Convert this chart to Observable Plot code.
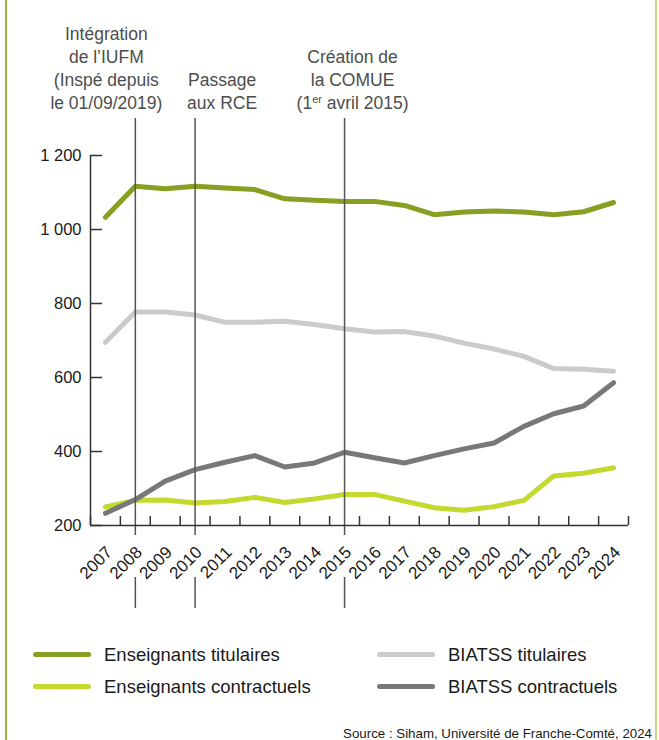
<!DOCTYPE html>
<html><head><meta charset="utf-8">
<script src="https://cdn.jsdelivr.net/npm/d3@7"></script>
<script src="https://cdn.jsdelivr.net/npm/@observablehq/plot@0.6"></script>
<style>
body{margin:0;background:#fff;font-family:"Liberation Sans",Arial,sans-serif;}
#wrap{position:relative;width:659px;height:740px;overflow:hidden;background:#fff}
#border{position:absolute;left:5px;top:0;width:648px;height:740px;border-left:2px solid #96bd33;border-right:2px solid #c0d784;}
#chart{position:absolute;left:0;top:0}
.item{position:absolute;display:flex;align-items:center;font-size:18.5px;line-height:21px;color:#1a1a1a;white-space:nowrap}
.sw{display:inline-block;width:58px;height:5px;border-radius:3px;margin-right:13px}
#source{position:absolute;right:7px;top:726px;font-size:13.3px;line-height:15px;color:#1a1a1a;white-space:nowrap}
</style>
</head><body>
<div id="wrap"><div id="border"></div><div id="chart"></div><div id="legend"></div><div id="source"></div></div>
<script>
const years = [2007,2008,2009,2010,2011,2012,2013,2014,2015,2016,2017,2018,2019,2020,2021,2022,2023,2024];
const seriesNames = ["Enseignants titulaires","BIATSS titulaires","Enseignants contractuels","BIATSS contractuels"];
const enseignantsTitulaires = [1033,1117,1110,1117,1112,1108,1083,1079,1076,1076,1065,1040,1047,1050,1047,1040,1048,1073];
const biatssTitulaires = [695,777,777,769,749,749,752,743,732,723,724,712,693,677,657,624,622,617];
const enseignantsContractuels = [250,268,269,261,265,276,262,272,284,284,266,248,241,251,268,334,341,356];
const biatssContractuels = [233,270,320,351,371,389,358,369,398,383,369,389,407,423,468,502,523,586];
const seriesColors = ["#86a023","#cbcbcb","#c3d92e","#78787b"];
const yTicks = [200,400,600,800,1000,1200];
const eventYears = [2008,2010,2015];
const eventLabels = ["Intégration\nde l’IUFM\n(Inspé depuis\nle 01/09/2019)","Passage\naux RCE","Création de\nla COMUE\n(1er avril 2015)"];
const sourceText = "Source : Siham, Université de Franche-Comté, 2024";

const seriesValues = [enseignantsTitulaires, biatssTitulaires, enseignantsContractuels, biatssContractuels];
const table = seriesNames.flatMap((name, k) => years.map((year, i) => ({series: name, year, value: seriesValues[k][i]})));
const xDomain = [years[0] - 0.5, years[years.length - 1] + 0.5];
const yDomain = [yTicks[0], yTicks[yTicks.length - 1]];
const boundaries = d3.range(xDomain[0], xDomain[1] + 0.01, 1);
const fmt = d => d >= 1000 ? Math.floor(d / 1000) + "\u00a0" + String(d % 1000).padStart(3, "0") : String(d);
const eventDx = [-29, 27, 8];
const font = '"Liberation Sans", Arial, sans-serif';

const chart = Plot.plot({
  width: 659, height: 620,
  marginTop: 155, marginBottom: 95, marginLeft: 90, marginRight: 31,
  style: {fontFamily: font, background: "transparent", overflow: "visible"},
  x: {domain: xDomain},
  y: {domain: yDomain},
  color: {domain: seriesNames, range: seriesColors},
  marks: [
    Plot.line(table, {x: "year", y: "value", stroke: "series", z: "series", strokeWidth: 5, strokeLinecap: "round", strokeLinejoin: "round"}),
    Plot.ruleX(eventYears, {x: d => d, stroke: "#555", strokeWidth: 1.5, insetTop: -37, insetBottom: -10}),
    Plot.ruleX(eventYears, {x: d => d, stroke: "#555", strokeWidth: 1.5, insetTop: 422, insetBottom: -83}),
    ...eventYears.map((yr, i) => Plot.text([{year: yr, label: eventLabels[i]}], {
      x: "year", text: "label", frameAnchor: "top", lineAnchor: "bottom", dy: -47, dx: eventDx[i],
      fontSize: 17.5, fill: "#4d4d4d", lineHeight: 1.31, textAnchor: "middle"
    })),
    Plot.ruleY([yDomain[0]], {stroke: "#333", strokeWidth: 1.5}),
    Plot.ruleX([xDomain[0]], {stroke: "#333", strokeWidth: 1.5}),
    Plot.axisY({ticks: yTicks, tickFormat: fmt, tickSize: -12, tickPadding: 21, fontSize: 16.5, color: "#1a1a1a", stroke: "#333", strokeWidth: 1.5, label: null}),
    Plot.axisX({ticks: years, tickFormat: d => String(d), tickSize: 0, tickPadding: 24, dx: 4, tickRotate: -45, fontSize: 17, color: "#1a1a1a", label: null}),
    Plot.axisX({ticks: boundaries, tickFormat: () => "", tickSize: -9, stroke: "#333", strokeWidth: 1.5, label: null})
  ]
});
document.getElementById("chart").appendChild(chart);

// superscript "er"
chart.querySelectorAll("tspan, text").forEach(t => {
  if (t.childElementCount === 0 && t.textContent === "(1er avril 2015)") {
    t.textContent = "";
    const ns = "http://www.w3.org/2000/svg";
    t.appendChild(document.createTextNode("(1"));
    const sup = document.createElementNS(ns, "tspan");
    sup.setAttribute("dy", "-6"); sup.setAttribute("font-size", "11");
    sup.textContent = "er";
    t.appendChild(sup);
    const rest = document.createElementNS(ns, "tspan");
    rest.setAttribute("dy", "6");
    rest.textContent = " avril 2015)";
    t.appendChild(rest);
  }
});

const legend = document.getElementById("legend");
const legendPos = [[33, 644], [377, 644], [33, 676], [377, 676]];
seriesNames.forEach((name, k) => {
  const d = document.createElement("div");
  d.className = "item";
  d.style.left = legendPos[k][0] + "px";
  d.style.top = legendPos[k][1] + "px";
  const sw = document.createElement("span");
  sw.className = "sw"; sw.style.background = seriesColors[k];
  d.appendChild(sw);
  d.appendChild(document.createTextNode(name));
  legend.appendChild(d);
});
document.getElementById("source").textContent = sourceText;
</script>
</body></html>
